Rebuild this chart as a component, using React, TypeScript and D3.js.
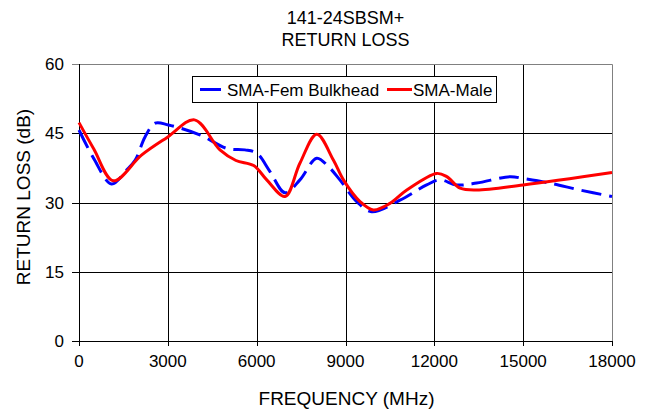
import { useRef, useEffect } from "react";
import * as d3 from "d3";

// SMA-Fem Bulkhead (blue dashed)
const femFreq = [0, 500, 1100, 1600, 1900, 2230, 2570, 3020, 4100, 5000, 5600, 6000, 6450, 6960, 7460, 8030, 8420, 8810, 9380, 9880, 10840, 11740, 12190, 12750, 13430, 14560, 15000, 15900, 16920, 18000]
const femLoss = [45.7, 39.5, 34.0, 37.0, 39.2, 44.2, 47.2, 46.8, 44.6, 41.7, 41.4, 40.7, 36.7, 32.1, 34.9, 39.6, 37.8, 34.9, 30.2, 28.0, 30.5, 33.8, 34.9, 33.8, 34.2, 35.6, 35.2, 34.2, 32.7, 31.3]

// SMA-Male (red solid)
const maleFreq = [0, 500, 1160, 2120, 3000, 3900, 4760, 5300, 5900, 6340, 6960, 7460, 8030, 8590, 8930, 9490, 9940, 10500, 11070, 12080, 12420, 12870, 13430, 15000, 18000]
const maleLoss = [47.3, 41.6, 34.7, 40.3, 44.2, 47.9, 41.4, 39.1, 38.0, 34.9, 31.3, 38.5, 44.8, 39.2, 34.9, 30.2, 28.4, 29.8, 32.7, 36.3, 35.6, 33.1, 32.7, 33.8, 36.5]

const seriesNames = ["SMA-Fem Bulkhead", "SMA-Male"]
const xTicks = [0, 3000, 6000, 9000, 12000, 15000, 18000]
const yTicks = [0, 15, 30, 45, 60]
const titleLines = ["141-24SBSM+", "RETURN LOSS"]

export default function App() {
    const svgRef = useRef<SVGSVGElement>(null)
    const width = 652
    const height = 411

    useEffect(() => {
        if (!svgRef.current) return
        const svg = d3.select(svgRef.current)
        svg.selectAll("*").remove()

        const left = 79, right = 612, top = 64, bottom = 341
        const x = d3.scaleLinear([0, 18000], [left, right])
        const y = d3.scaleLinear([0, 60], [bottom, top])
        const font = "Arial, 'Liberation Sans', sans-serif"

        // grid
        svg.append("g").selectAll("line").data(yTicks.filter(d => d > 0 && d < 60)).join("line")
          .attr("x1", left).attr("x2", right)
          .attr("y1", d => Math.round(y(d)) + 0.5).attr("y2", d => Math.round(y(d)) + 0.5)
          .attr("stroke", "#000")
        svg.append("g").selectAll("line").data(xTicks.filter(d => d > 0 && d < 18000)).join("line")
          .attr("y1", top).attr("y2", bottom)
          .attr("x1", d => Math.round(x(d)) + 0.5).attr("x2", d => Math.round(x(d)) + 0.5)
          .attr("stroke", "#000")

        // frame
        svg.append("path")
          .attr("d", `M${left + 0.5},${top + 0.5}H${right + 0.5}V${bottom + 0.5}`)
          .attr("fill", "none").attr("stroke", "#808080")
        svg.append("path")
          .attr("d", `M${left + 0.5},${top}V${bottom + 0.5}H${right + 0.5}`)
          .attr("fill", "none").attr("stroke", "#000")

        // ticks
        svg.append("g").selectAll("line").data(yTicks).join("line")
          .attr("x1", left - 7).attr("x2", left)
          .attr("y1", d => Math.round(y(d)) + 0.5).attr("y2", d => Math.round(y(d)) + 0.5)
          .attr("stroke", d => d == 60 ? "#808080" : "#000")
        svg.append("g").selectAll("line").data(xTicks).join("line")
          .attr("y1", bottom).attr("y2", bottom + 5)
          .attr("x1", d => Math.round(x(d)) + 0.5).attr("x2", d => Math.round(x(d)) + 0.5)
          .attr("stroke", "#000")

        svg.append("g").selectAll("text").data(yTicks).join("text")
          .attr("x", 64).attr("y", d => y(d)).attr("dy", "0.36em")
          .attr("text-anchor", "end")
          .attr("font-family", font).attr("font-size", 17).attr("fill", "#000")
          .text(d => d)
        svg.append("g").selectAll("text").data(xTicks).join("text")
          .attr("x", d => x(d)).attr("y", 367)
          .attr("text-anchor", "middle")
          .attr("font-family", font).attr("font-size", 17).attr("fill", "#000")
          .text(d => d)

        // titles
        svg.append("g").selectAll("text").data(titleLines).join("text")
          .attr("x", (left + right) / 2).attr("y", (d, i) => 24 + i * 22)
          .attr("text-anchor", "middle")
          .attr("font-family", font).attr("font-size", 18).attr("fill", "#000")
          .text(d => d)
        svg.append("text")
          .attr("x", (left + right) / 2 + 1).attr("y", 405)
          .attr("text-anchor", "middle")
          .attr("font-family", font).attr("font-size", 19).attr("fill", "#000")
          .text("FREQUENCY (MHz)")
        svg.append("text")
          .attr("transform", "translate(30,197) rotate(-90)")
          .attr("text-anchor", "middle")
          .attr("font-family", font).attr("font-size", 19).attr("fill", "#000")
          .text("RETURN LOSS (dB)")

        // lines
        const line = d3.line<[number, number]>()
          .x(d => x(d[0])).y(d => y(d[1]))
          .curve(d3.curveCatmullRom.alpha(0.5))
        const femPts = femFreq.map((f, i) => [f, femLoss[i]] as [number, number])
        const malePts = maleFreq.map((f, i) => [f, maleLoss[i]] as [number, number])

        svg.append("path").attr("d", line(femPts))
          .attr("fill", "none").attr("stroke", "#0000ff").attr("stroke-width", 3)
          .attr("stroke-dasharray", "20,8")
        svg.append("path").attr("d", line(malePts))
          .attr("fill", "none").attr("stroke", "#ff0000").attr("stroke-width", 3)

        // legend
        const lg = svg.append("g")
        lg.append("rect").attr("x", 192.5).attr("y", 76.5).attr("width", 304).attr("height", 26)
          .attr("fill", "#fff").attr("stroke", "#000")
        const legendItems = [
          { name: seriesNames[0], color: "#0000ff", x0: 200, x1: 221, tx: 227 },
          { name: seriesNames[1], color: "#ff0000", x0: 387, x1: 412, tx: 413 },
        ]
        legendItems.forEach(it => {
          lg.append("line").attr("x1", it.x0).attr("x2", it.x1).attr("y1", 89.5).attr("y2", 89.5)
            .attr("stroke", it.color).attr("stroke-width", 3)
          lg.append("text").attr("x", it.tx).attr("y", 95.5)
            .attr("font-family", font).attr("font-size", 17).attr("fill", "#000")
            .text(it.name)
        })
    }, [])

    return (
        <svg ref={svgRef} width={width} height={height}
          style={{ position: "absolute", left: 0, top: 0, background: "#fff" }} />
    )
}
